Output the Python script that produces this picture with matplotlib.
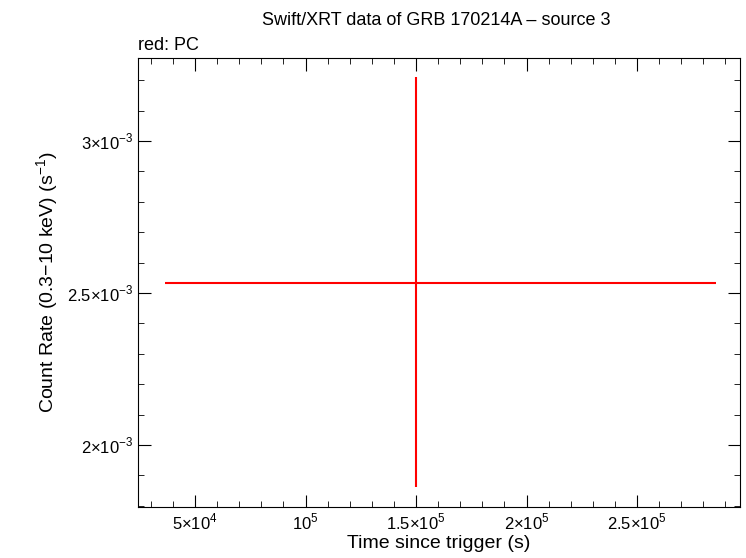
import matplotlib
matplotlib.use("Agg")
import matplotlib.pyplot as plt
from matplotlib.ticker import MultipleLocator

plt.rcParams['font.family'] = ['Liberation Sans', 'DejaVu Sans']
plt.rcParams['mathtext.fontset'] = 'custom'
plt.rcParams['mathtext.rm'] = 'Liberation Sans'

x = [1.5e5]
xerr_lo = [1.135e5]
xerr_hi = [1.356e5]
y = [2.533e-3]
yerr_lo = [0.671e-3]
yerr_hi = [0.677e-3]

xticks = [5e4, 1e5, 1.5e5, 2e5, 2.5e5]
xticklabels = [r'5$\times$10$^{4}$', r'10$^{5}$', r'1.5$\times$10$^{5}$', r'2$\times$10$^{5}$', r'2.5$\times$10$^{5}$']
yticks = [2e-3, 2.5e-3, 3e-3]
yticklabels = [r'2$\times$10$^{-3}$', r'2.5$\times$10$^{-3}$', r'3$\times$10$^{-3}$']

fig = plt.figure(figsize=(7.46, 5.58), dpi=100)
ax = fig.add_axes([0.185, 0.0914, 0.807, 0.8046])
ax.errorbar(x, y, xerr=[xerr_lo, xerr_hi], yerr=[yerr_lo, yerr_hi], fmt='none', ecolor='red', elinewidth=1.5, capsize=0)
ax.set_xlim(24200, 296600)
ax.set_ylim(1.796e-3, 3.273e-3)
ax.set_xticks(xticks)
ax.set_xticklabels(xticklabels)
ax.set_yticks(yticks)
ax.set_yticklabels(yticklabels)
ax.xaxis.set_minor_locator(MultipleLocator(1e4))
ax.yaxis.set_minor_locator(MultipleLocator(1e-4))
ax.tick_params(which='both', direction='in', top=True, right=True, labelsize=12)
ax.tick_params(which='major', length=9)
ax.tick_params(which='minor', length=4)
ax.set_xlabel('Time since trigger (s)', fontsize=14, labelpad=2)
ax.set_ylabel(r'Count Rate (0.3$-$10 keV) (s$^{-1}$)', fontsize=14)
fig.text(0.585, 0.955, 'Swift/XRT data of GRB 170214A \u2013 source 3', ha='center', fontsize=13)
fig.text(0.185, 0.91, 'red: PC', ha='left', fontsize=13)
fig.savefig('out.png', dpi=100)
